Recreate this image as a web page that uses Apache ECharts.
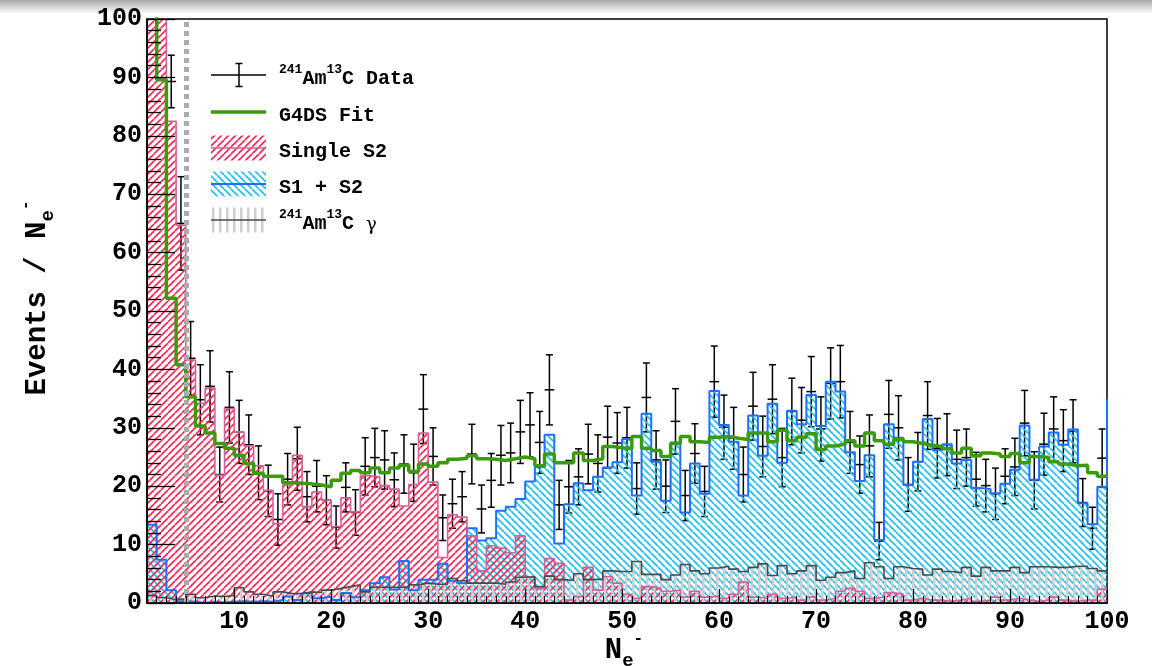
<!DOCTYPE html>
<html><head><meta charset="utf-8">
<script src="https://cdn.jsdelivr.net/npm/echarts@6.0.0/dist/echarts.min.js"></script>
<style>html,body{margin:0;padding:0;background:#fff;}#chart{width:1159px;height:666px;}</style>
</head><body><div id="chart"></div>
<script>
// Bin lower edges (N_e-), width 1, last entry is the upper edge of the last bin / overflow edge
const binEdges = [1,2,3,4,5,6,7,8,9,10,11,12,13,14,15,16,17,18,19,20,
  21,22,23,24,25,26,27,28,29,30,31,32,33,34,35,36,37,38,39,40,
  41,42,43,44,45,46,47,48,49,50,51,52,53,54,55,56,57,58,59,60,
  61,62,63,64,65,66,67,68,69,70,71,72,73,74,75,76,77,78,79,80,
  81,82,83,84,85,86,87,88,89,90,91,92,93,94,95,96,97,98,99,100,101];

// 241Am13C data (events per N_e-) and error bars
const dataCounts = [180,125,89.3,65.0,41.9,34.8,37.1,22.0,33.5,29.3,
  27.1,22.3,19.2,14.3,21.2,24.7,18.2,20.0,17.6,13.0,
  19.8,15.5,23.4,24.9,24.5,21.1,23.8,22.3,33.2,25.1,
  14.6,17.0,18.2,25.5,16.1,21.0,25.3,25.7,29.3,30.5,
  27.5,36.5,16.8,19.9,21.6,25.5,23.9,28.4,27.4,28.3,
  19.6,35.2,24.5,20.0,31.1,18.4,25.6,19.1,37.9,30.1,
  28.2,22.0,33.7,26.8,34.9,24.9,32.8,31.3,36.2,29.8,
  37.6,37.9,27.5,23.7,26.9,10.6,32.3,30.0,20.3,24.2,
  32.1,26.5,27.1,24.6,24.9,21.2,20.1,18.7,21.7,23.3,
  30.8,21.0,27.2,29.8,27.8,29.4,17.2,12.8,24.8];
const dataErrors = [13,11,4.5,8.0,6.3,6.0,6.1,4.7,6.1,5.4,
  5.1,4.6,4.4,4.4,4.4,5.4,4.3,4.4,4.2,3.6,
  4.2,3.9,4.9,5.0,5.0,4.6,5.0,4.9,5.9,4.9,
  3.9,4.2,4.3,5.1,4.1,4.6,5.1,5.1,5.4,5.5,
  5.3,6.0,4.2,4.5,4.8,5.1,4.9,5.3,5.2,5.2,
  4.4,5.9,5.0,4.5,5.6,4.3,5.1,4.3,6.1,5.5,
  5.3,4.7,5.8,5.2,5.9,5.0,5.7,5.6,6.0,5.5,
  6.1,6.2,5.3,4.9,5.3,3.2,5.8,5.5,4.6,5.0,
  5.8,5.1,5.3,5.0,4.9,4.6,4.5,4.4,4.7,4.9,
  5.6,4.9,5.3,5.5,5.3,5.4,4.1,3.6,5.0];

// G4DS fit
const fitG4DS = [130,89.6,52.2,40.8,35.3,30.3,29.1,27.3,26.5,25.3,
  23.9,22.2,21.7,21.7,20.6,20.5,20.4,20.2,19.9,21.0,
  22.2,22.7,22.3,23.1,22.3,23.1,23.6,22.5,23.8,23.4,
  24.0,24.6,24.8,25.2,24.7,24.6,24.4,24.7,25.0,24.7,
  23.5,25.5,24.0,24.0,25.7,24.4,24.7,26.8,26.6,26.4,
  28.5,26.5,26.1,25.1,27.3,28.5,27.6,27.5,28.4,28.5,
  28.2,28.0,29.1,29.1,27.6,29.6,27.8,28.4,29.0,26.3,
  26.9,27.2,27.8,26.9,29.1,27.8,27.2,28.0,27.6,27.3,
  27.0,26.8,26.4,25.7,26.5,25.2,25.7,25.5,25.1,25.6,
  24.0,25.1,24.9,24.2,23.8,23.5,23.6,22.3,21.7];

// Single S2 component
const singleS2 = [180,120,82.5,64.7,41.6,34.2,36.8,21.9,33.3,29.3,
  26.9,23.5,19.3,13.6,20.2,25.3,16.5,19.0,17.6,13.1,
  18.0,15.6,21.8,21.6,20.1,19.5,16.6,20.3,29.1,20.7,
  7.8,15.1,14.7,11.5,5.5,9.8,9.4,8.6,11.5,4.4,
  2.5,7.6,6.8,0.5,1.1,6.1,2.2,4.5,3.4,1.5,
  0.8,2.8,2.5,2.0,2.2,1.0,2.0,1.0,1.2,0.8,
  1.5,3.6,1.0,0.8,1.5,0.8,1.0,0.5,1.0,0.5,
  0.8,2.0,2.5,2.0,0.8,1.0,1.8,1.5,0.5,0.8,
  0.5,0.5,0.3,0.5,0.8,0.3,0.5,1.0,0.5,0.8,
  0.5,0.3,0.5,1.0,0.5,0.3,0.5,0.5,2.4];

// S1 + S2 component (last value = overflow bin at N_e- = 100)
const s1s2 = [13.4,7.4,2.2,0.3,0.2,0,0.2,0.1,0.2,0.3,
  0.2,0.3,0.2,0.5,1.1,0.5,1.7,0.8,1.1,0.5,
  1.7,1.0,2.2,3.4,4.4,2.3,7.2,2.2,4.0,4.0,
  6.7,3.8,3.4,12.8,10.7,11.1,15.8,16.5,17.8,20.8,
  23.3,28.8,10.2,16.9,20.5,19.3,21.6,23.2,24.1,28.1,
  18.4,32.4,24.2,17.5,27.5,15.5,23.9,18.7,36.3,30.5,
  27.6,18.4,32.1,25.2,34.1,24.0,32.9,30.6,35.6,30.3,
  37.9,36.2,25.8,20.9,25.3,10.8,30.6,28.3,20.2,24.2,
  31.5,26.2,27.2,23.9,24.5,19.7,19.5,18.8,20.4,22.8,
  30.4,21.1,26.8,29.2,27.1,29.7,17.1,13.5,19.9,34.9];

// 241Am13C gamma background
const gammaBkg = [1.3,0.9,0.6,0.7,1.5,0.9,1.2,1.1,1.3,2.6,
  1.9,1.5,1.2,1.9,1.6,1.6,1.9,1.8,2.2,2.5,
  2.8,3.1,1.9,2.7,2.7,2.7,2.7,3.1,3.4,3.2,
  3.2,4.2,3.8,3.4,3.4,3.4,3.2,3.6,4.4,4.5,
  2.8,4.6,4.0,3.9,5.0,4.0,4.1,5.5,5.4,5.4,
  7.1,4.9,4.9,4.0,4.8,6.6,5.5,5.0,6.0,6.3,
  5.8,5.4,6.1,6.7,4.7,6.4,5.0,5.5,6.4,3.9,
  4.4,5.2,5.5,4.2,6.9,6.2,4.2,6.2,5.9,5.8,
  4.8,5.8,5.4,5.2,6.1,4.6,6.1,5.5,5.5,6.1,
  5.2,6.2,6.2,6.1,6.1,6.3,6.3,5.9,5.5];

const thresholdNe = 5;
const xRange = [1, 100];
const yRange = [0, 100];

const MONO = 'Liberation Mono';

function hatch(kind) {
  const s = 7;
  const c = document.createElement('canvas');
  c.width = s; c.height = s;
  const g = c.getContext('2d');
  if (kind === 'red') {
    g.strokeStyle = '#ff2352'; g.lineWidth = 1.6;
    for (const o of [-s, 0, s]) { g.beginPath(); g.moveTo(o, s); g.lineTo(o + s, 0); g.stroke(); }
  } else if (kind === 'blue') {
    g.strokeStyle = '#1fc0f0'; g.lineWidth = 1.7;
    for (const o of [-s, 0, s]) { g.beginPath(); g.moveTo(o, 0); g.lineTo(o + s, s); g.stroke(); }
  } else {
    g.fillStyle = '#cfcfcf'; g.fillRect(2, 0, 2.5, s);
  }
  return c;
}
const patRed = { image: hatch('red'), repeat: 'repeat' };
const patBlue = { image: hatch('blue'), repeat: 'repeat' };
const patGray = { image: hatch('gray'), repeat: 'repeat' };

function stepPoints(vals) {
  const pts = vals.map((v, i) => [binEdges[i], v]);
  const last = binEdges[vals.length];
  if (last <= xRange[1]) pts.push([last, vals[vals.length - 1]]);
  return pts;
}

function fillSeries(name, vals, pat) {
  return { type: 'line', name, step: 'end', data: stepPoints(vals), showSymbol: false, symbol: 'none',
    lineStyle: { width: 0, opacity: 0 }, areaStyle: { color: pat, opacity: 1 }, silent: true, z: 2 };
}
function outlineSeries(name, vals, color, width) {
  return { type: 'line', name, step: 'end', data: stepPoints(vals), showSymbol: false, symbol: 'none',
    lineStyle: { color, width }, silent: true, z: 2 };
}

const chart = echarts.init(document.getElementById('chart'), null, { renderer: 'canvas' });

const richLegend = {
  b: { fontFamily: MONO, fontWeight: 'bold', fontSize: 20, lineHeight: 26, verticalAlign: 'bottom', color: '#000' },
  s: { fontFamily: MONO, fontWeight: 'bold', fontSize: 13, lineHeight: 16, verticalAlign: 'top', color: '#000' },
  g: { fontFamily: 'DejaVu Serif', fontSize: 18, lineHeight: 24, verticalAlign: 'bottom', color: '#000' }
};
const richTitle = {
  b: { fontFamily: MONO, fontWeight: 'bold', fontSize: 29, lineHeight: 40, verticalAlign: 'middle', color: '#000' },
  sub: { fontFamily: MONO, fontWeight: 'bold', fontSize: 19, lineHeight: 18, verticalAlign: 'bottom', color: '#000' },
  sup: { fontFamily: MONO, fontWeight: 'bold', fontSize: 16, lineHeight: 18, verticalAlign: 'top', color: '#000' }
};

const legendItems = [
  { y: 75, text: '{s|241}{b|Am}{s|13}{b|C Data}', kind: 'data' },
  { y: 112, text: '{b|G4DS Fit}', kind: 'fit' },
  { y: 148, text: '{b|Single S2}', kind: 'red' },
  { y: 184, text: '{b|S1 + S2}', kind: 'blue' },
  { y: 220, text: '{s|241}{b|Am}{s|13}{b|C }{g|γ}', kind: 'gray' }
];
const lx0 = 211, lx1 = 266, ltx = 279;
const legendGraphics = [];
legendItems.forEach(it => {
  if (it.kind === 'data') {
    legendGraphics.push({ type: 'line', shape: { x1: lx0, y1: it.y, x2: lx1, y2: it.y }, style: { stroke: '#000', lineWidth: 1.5 }, z: 100 });
    legendGraphics.push({ type: 'line', shape: { x1: 239, y1: it.y - 11.5, x2: 239, y2: it.y + 11.5 }, style: { stroke: '#000', lineWidth: 1.5 }, z: 100 });
    legendGraphics.push({ type: 'line', shape: { x1: 235.5, y1: it.y - 11.5, x2: 242.5, y2: it.y - 11.5 }, style: { stroke: '#000', lineWidth: 1.5 }, z: 100 });
    legendGraphics.push({ type: 'line', shape: { x1: 235.5, y1: it.y + 11.5, x2: 242.5, y2: it.y + 11.5 }, style: { stroke: '#000', lineWidth: 1.5 }, z: 100 });
  } else if (it.kind === 'fit') {
    legendGraphics.push({ type: 'line', shape: { x1: lx0, y1: it.y, x2: lx1, y2: it.y }, style: { stroke: '#3a9c0d', lineWidth: 3.5 }, z: 100 });
  } else {
    const pat = it.kind === 'red' ? patRed : it.kind === 'blue' ? patBlue : patGray;
    const lc = it.kind === 'red' ? '#d3609a' : it.kind === 'blue' ? '#1f6fff' : '#4a4a4a';
    legendGraphics.push({ type: 'rect', shape: { x: lx0, y: it.y - 12.5, width: lx1 - lx0, height: 25 }, style: { fill: pat }, z: 100 });
    legendGraphics.push({ type: 'line', shape: { x1: lx0, y1: it.y, x2: lx1, y2: it.y }, style: { stroke: lc, lineWidth: it.kind === 'blue' ? 2 : 1.5 }, z: 100 });
  }
  legendGraphics.push({ type: 'text', x: ltx, y: it.y + 1, z: 100,
    style: { text: it.text, rich: richLegend, align: 'left', verticalAlign: 'middle' } });
});

const option = {
  animation: false,
  backgroundColor: '#fff',
  grid: { left: 147, right: 52, top: 19, bottom: 63, show: true, borderColor: '#000', borderWidth: 1.5, backgroundColor: 'transparent' },
  xAxis: {
    type: 'value', min: xRange[0], max: xRange[1], splitNumber: 10, z: 10,
    axisLine: { show: true, onZero: false, lineStyle: { color: '#000', width: 1.5 } },
    axisTick: { show: true, inside: true, length: 14, lineStyle: { color: '#000', width: 1.2 } },
    minorTick: { show: true, splitNumber: 10, length: 7, lineStyle: { color: '#000', width: 1 } },
    splitLine: { show: false },
    axisLabel: { color: '#000', fontFamily: MONO, fontWeight: 'bold', fontSize: 25, margin: 6,
      formatter: v => (v === xRange[0] ? '' : String(v)) }
  },
  yAxis: {
    type: 'value', min: yRange[0], max: yRange[1], interval: 10, z: 10,
    axisLine: { show: true, onZero: false, lineStyle: { color: '#000', width: 1.5 } },
    axisTick: { show: true, inside: true, length: 28, lineStyle: { color: '#000', width: 1.3 } },
    minorTick: { show: true, splitNumber: 5, length: 14, lineStyle: { color: '#000', width: 1.3 } },
    splitLine: { show: false },
    axisLabel: { color: '#000', fontFamily: MONO, fontWeight: 'bold', fontSize: 25, margin: 5 }
  },
  graphic: [
    { type: 'rect', shape: { x: 0, y: 0, width: 1152, height: 14 }, z: 0,
      style: { fill: new echarts.graphic.LinearGradient(0, 0, 0, 1, [{ offset: 0, color: '#a9a9a9' }, { offset: 1, color: '#ffffff' }]) } },
    { type: 'text', x: 38, y: 298, rotation: Math.PI / 2, z: 100,
      style: { text: '{b|Events / N}{sub|e}{sup|-}', rich: richTitle, align: 'center', verticalAlign: 'middle' } },
    { type: 'text', x: 624, y: 651, z: 100,
      style: { text: '{b|N}{sub|e}{sup|-}', rich: richTitle, align: 'center', verticalAlign: 'middle' } }
  ].concat(legendGraphics),
  series: [
    {
      type: 'custom', name: 'Data', clip: true, z: 2,
      data: dataCounts.map((v, i) => [binEdges[i], binEdges[i + 1], v, dataErrors[i]]),
      encode: { x: [0, 1], y: 2 },
      renderItem: (params, api) => {
        const xl = api.value(0), xr = api.value(1), v = api.value(2), e = api.value(3);
        const pL = api.coord([xl, v]), pR = api.coord([xr, v]);
        const xc = (pL[0] + pR[0]) / 2;
        const yt = api.coord([xl, v + e])[1], yb = api.coord([xl, v - e])[1];
        const st = { stroke: '#000', lineWidth: 1.5 };
        const cap = 3.5;
        return { type: 'group', children: [
          { type: 'line', shape: { x1: xc, y1: yt, x2: xc, y2: yb }, style: st },
          { type: 'line', shape: { x1: pL[0], y1: pL[1], x2: pR[0], y2: pR[1] }, style: st },
          { type: 'line', shape: { x1: xc - cap, y1: yt, x2: xc + cap, y2: yt }, style: st },
          { type: 'line', shape: { x1: xc - cap, y1: yb, x2: xc + cap, y2: yb }, style: st }
        ] };
      }
    },
    fillSeries('S1 + S2 fill', s1s2, patBlue),
    fillSeries('Single S2 fill', singleS2, patRed),
    fillSeries('gamma fill', gammaBkg, patGray),
    outlineSeries('S1 + S2', s1s2, '#1f6fff', 2),
    outlineSeries('Single S2', singleS2, '#d3609a', 1.6),
    outlineSeries('gamma', gammaBkg, '#4a4a4a', 1.6),
    {
      type: 'line', name: 'threshold', data: [], silent: true, z: 3,
      markLine: { symbol: ['none', 'none'], silent: true, label: { show: false }, animation: false,
        lineStyle: { color: '#ababab', width: 5, type: [5, 4] },
        data: [{ xAxis: thresholdNe }] }
    },
    {
      type: 'line', name: 'G4DS Fit', step: 'end', data: stepPoints(fitG4DS), showSymbol: false, symbol: 'none',
      lineStyle: { color: '#3a9c0d', width: 3.5 }, silent: true, z: 4
    }
  ]
};
chart.setOption(option);
</script>
</body></html>
